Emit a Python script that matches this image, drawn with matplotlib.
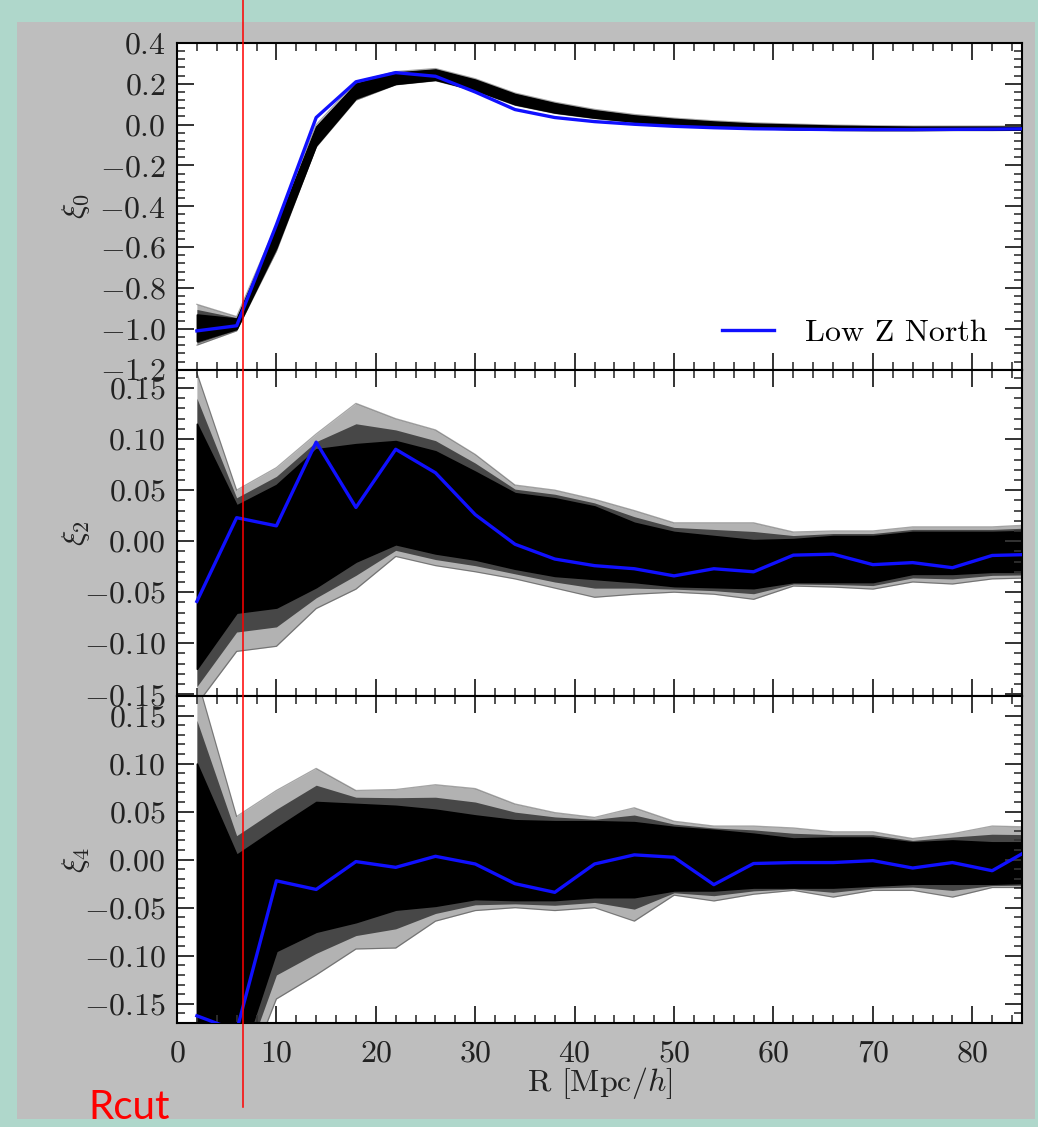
import numpy as np
import matplotlib.pyplot as plt
from matplotlib.ticker import MultipleLocator, FuncFormatter
from matplotlib import transforms
from matplotlib.patches import Rectangle

plt.rcParams['mathtext.fontset'] = 'cm'
plt.rcParams['font.family'] = 'serif'
plt.rcParams['font.serif'] = ['cmr10', 'DejaVu Serif']
plt.rcParams['axes.formatter.use_mathtext'] = True

# separations
R = [2, 6, 10, 14, 18, 22, 26, 30, 34, 38, 42, 46, 50, 54, 58, 62, 66, 70, 74, 78, 82, 86]

# data (Low Z North)
xi0_data = [-1.01, -0.985, -0.49, 0.035, 0.21, 0.255, 0.237, 0.16, 0.074, 0.035, 0.015,
            0.002, -0.008, -0.015, -0.02, -0.022, -0.024, -0.024, -0.024, -0.023, -0.022, -0.02]
xi2_data = [-0.059, 0.023, 0.015, 0.097, 0.033, 0.090, 0.067, 0.026, -0.003, -0.0175, -0.024,
            -0.027, -0.034, -0.027, -0.030, -0.0137, -0.0127, -0.023, -0.021, -0.026, -0.014, -0.013]
xi4_data = [-0.1625, -0.178, -0.022, -0.031, -0.002, -0.008, 0.0035, -0.0045, -0.025, -0.034, -0.0045,
            0.005, 0.0025, -0.026, -0.004, -0.003, -0.003, -0.001, -0.0087, -0.003, -0.0115, 0.012]

xi0_core_lo = [-1.06, -1.00, -0.60, -0.10, 0.13, 0.20, 0.22, 0.17, 0.10, 0.06, 0.035,
               0.015, 0.0, -0.01, -0.017, -0.022, -0.025, -0.026, -0.026, -0.025, -0.025, -0.024]
xi0_core_hi = [-0.93, -0.95, -0.50, -0.01, 0.20, 0.255, 0.27, 0.22, 0.15, 0.105, 0.07,
               0.045, 0.028, 0.015, 0.005, 0.0, -0.005, -0.008, -0.01, -0.01, -0.01, -0.01]
xi0_out_lo = [-1.08, -1.01, -0.62, -0.11, 0.12, 0.195, 0.215, 0.165, 0.095, 0.055, 0.03,
              0.01, -0.004, -0.013, -0.02, -0.025, -0.028, -0.029, -0.029, -0.028, -0.028, -0.027]
xi0_out_hi = [-0.88, -0.94, -0.49, 0.0, 0.21, 0.26, 0.275, 0.225, 0.155, 0.11, 0.075,
              0.05, 0.032, 0.019, 0.009, 0.003, -0.002, -0.005, -0.007, -0.007, -0.007, -0.007]

xi2_core_lo = [-0.125, -0.07, -0.065, -0.045, -0.02, -0.003, -0.012, -0.018, -0.027, -0.034, -0.037,
               -0.040, -0.044, -0.045, -0.046, -0.040, -0.040, -0.040, -0.032, -0.032, -0.030, -0.030]
xi2_core_hi = [0.115, 0.035, 0.055, 0.09, 0.095, 0.098, 0.088, 0.068, 0.047, 0.042, 0.034,
               0.018, 0.009, 0.005, 0.001, 0.002, 0.005, 0.005, 0.009, 0.009, 0.009, 0.010]
xi2_out_lo = [-0.16, -0.108, -0.103, -0.066, -0.047, -0.015, -0.024, -0.03, -0.037, -0.046, -0.055,
              -0.052, -0.05, -0.052, -0.057, -0.044, -0.045, -0.047, -0.040, -0.042, -0.037, -0.036]
xi2_out_hi = [0.165, 0.05, 0.072, 0.105, 0.135, 0.12, 0.109, 0.085, 0.055, 0.05, 0.041,
              0.03, 0.018, 0.018, 0.018, 0.009, 0.01, 0.01, 0.014, 0.014, 0.014, 0.016]

xi4_core_lo = [-0.20, -0.22, -0.095, -0.075, -0.065, -0.052, -0.048, -0.041, -0.042, -0.042, -0.039,
               -0.039, -0.032, -0.032, -0.029, -0.029, -0.029, -0.027, -0.025, -0.025, -0.025, -0.024]
xi4_core_hi = [0.10, 0.005, 0.033, 0.06, 0.058, 0.056, 0.052, 0.046, 0.041, 0.04, 0.04,
               0.039, 0.034, 0.031, 0.027, 0.022, 0.023, 0.023, 0.018, 0.02, 0.018, 0.018]
xi4_out_lo = [-0.22, -0.25, -0.145, -0.12, -0.093, -0.092, -0.064, -0.053, -0.05, -0.053, -0.05,
              -0.064, -0.037, -0.043, -0.036, -0.032, -0.039, -0.032, -0.032, -0.039, -0.029, -0.029]
xi4_out_hi = [0.19, 0.045, 0.072, 0.095, 0.072, 0.073, 0.078, 0.074, 0.058, 0.049, 0.044,
              0.054, 0.04, 0.035, 0.035, 0.033, 0.029, 0.029, 0.022, 0.027, 0.035, 0.034]

r_cut = 6.64

W, H = 1038, 1127
fig = plt.figure(figsize=(W / 100, H / 100), dpi=100)
fig.patch.set_facecolor('#afd7cb')
fig.add_artist(Rectangle((17 / W, 1 - 1119 / H), (1035 - 17) / W, (1119 - 22) / H,
                         transform=fig.transFigure, facecolor='#bebebe', edgecolor='none', zorder=0))

left, right = 177 / W, 1022 / W
top, bottom = 1 - 43 / H, 1 - 1023 / H
ph = (top - bottom) / 3

ax1 = fig.add_axes([left, bottom + 2 * ph, right - left, ph])
ax2 = fig.add_axes([left, bottom + ph, right - left, ph], sharex=ax1)
ax3 = fig.add_axes([left, bottom, right - left, ph], sharex=ax1)

panels = [
    (ax1, xi0_data, xi0_core_lo, xi0_core_hi, xi0_out_lo, xi0_out_hi, r'$\xi_0$', (-1.2, 0.4), 0.2, 0.04, 1),
    (ax2, xi2_data, xi2_core_lo, xi2_core_hi, xi2_out_lo, xi2_out_hi, r'$\xi_2$', (-0.152, 0.168), 0.05, 0.01, 2),
    (ax3, xi4_data, xi4_core_lo, xi4_core_hi, xi4_out_lo, xi4_out_hi, r'$\xi_4$', (-0.17, 0.17), 0.05, 0.01, 2),
]

for ax, d, clo, chi, olo, ohi, lab, ylim, major, minor, nd in panels:
    ax.set_facecolor('white')
    ax.fill_between(R, olo, ohi, color='black', alpha=0.3, lw=0)
    ax.plot(R, olo, color='black', alpha=0.35, lw=0.9)
    ax.plot(R, ohi, color='black', alpha=0.35, lw=0.9)
    mlo = [(a + b) / 2 for a, b in zip(olo, clo)]
    mhi = [(a + b) / 2 for a, b in zip(ohi, chi)]
    ax.fill_between(R, mlo, mhi, color='black', alpha=0.6, lw=0)
    ax.fill_between(R, clo, chi, color='black', lw=1.2, edgecolor='black')
    ax.plot(R, d, color='#1010ff', lw=2.4, zorder=5, label='Low Z North')

    ax.set_xlim(0, 85)
    ax.set_ylim(*ylim)
    ax.yaxis.set_major_locator(MultipleLocator(major))
    ax.yaxis.set_minor_locator(MultipleLocator(minor))
    ax.xaxis.set_major_locator(MultipleLocator(10))
    ax.xaxis.set_minor_locator(MultipleLocator(2))
    ax.yaxis.set_major_formatter(FuncFormatter(lambda v, p, nd=nd: '$%.*f$' % (nd, round(v, nd) + 0.0)))
    ax.xaxis.set_major_formatter(FuncFormatter(lambda v, p: '$%d$' % round(v)))
    ax.tick_params(which='both', direction='in', top=True, right=True, colors='#333333',
                   labelcolor='#222222')
    ax.tick_params(which='major', length=12, width=1.4, labelsize=23, pad=8)
    ax.tick_params(which='minor', length=6, width=1.2)
    ax.tick_params(axis='x', pad=12)
    for s in ax.spines.values():
        s.set_linewidth(1.5)
    ax.set_ylabel(lab, fontsize=23, color='#222222')
    ax.yaxis.set_label_coords(-0.10, 0.5)

ax1.tick_params(axis='x', labelbottom=False)
ax2.tick_params(axis='x', labelbottom=False)

ax1.legend(loc='lower right', bbox_to_anchor=(0.992, -0.015), frameon=False, fontsize=23,
           handlelength=1.6, handletextpad=1.0, borderaxespad=0.45)

ax3.set_xlabel(r'R $[\mathrm{Mpc}/h]$', fontsize=23, color='#222222')
ax3.xaxis.set_label_coords(0.5, -0.13)

# Rcut marker
trans = transforms.blended_transform_factory(ax3.transData, fig.transFigure)
ax3.plot([r_cut, r_cut], [1.0, 1 - 1107 / H], color='#ff0000', lw=1.1, transform=trans,
         clip_on=False, zorder=10)
fig.text(88 / W, 0.007, 'Rcut', color='red', fontsize=29, family='Lato', va='baseline')

fig.savefig('out.png', dpi=100, facecolor=fig.get_facecolor())
